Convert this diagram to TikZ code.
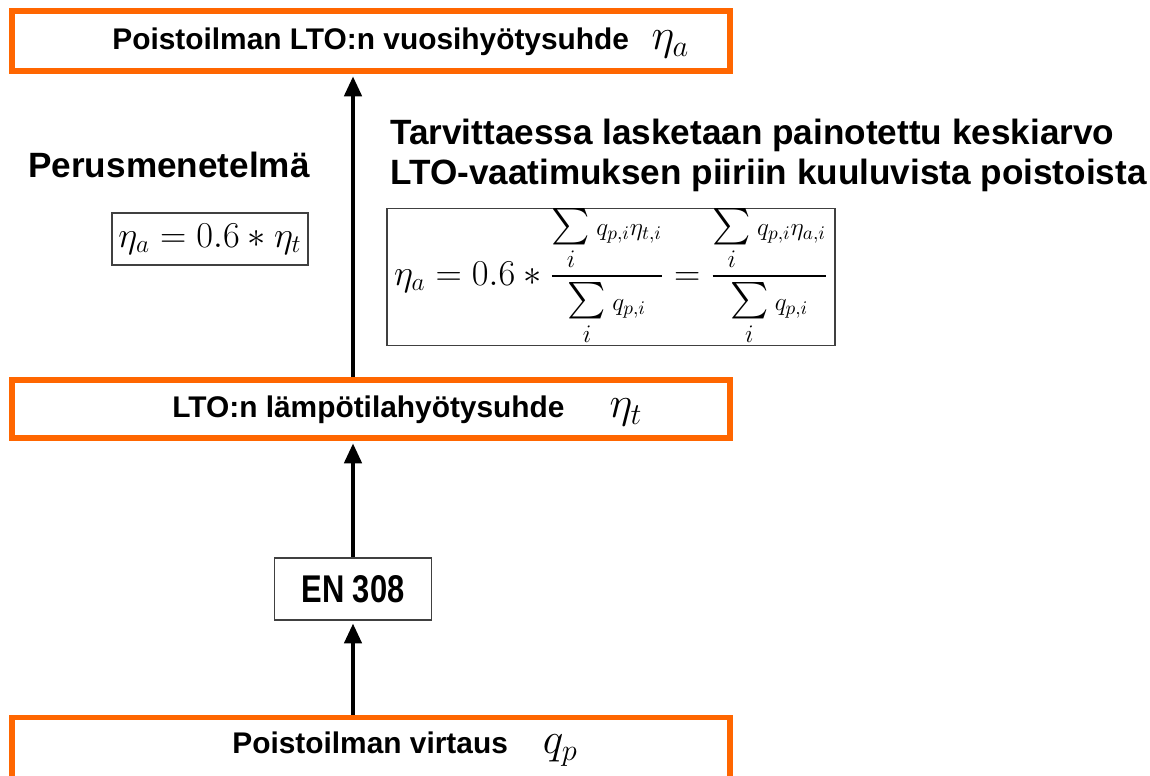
\documentclass[tikz,border=0pt]{standalone}
\usepackage{fontspec}
\usepackage{amsmath}
\setmainfont{Liberation Sans}
\newfontfamily\narrowfont[FakeStretch=0.8]{Liberation Sans}
\usetikzlibrary{arrows.meta}

\definecolor{ltoorange}{RGB}{255,102,0}

\tikzset{
  orangebox/.style={draw=ltoorange, line width=3pt, minimum width=14.36cm,
    minimum height=1.2cm, inner sep=0pt},
  thinbox/.style={draw=black!75, line width=0.9pt, inner sep=0pt},
  boxtext/.style={font=\bfseries\fontsize{17}{20}\selectfont, inner sep=0pt, anchor=west},
  headtext/.style={font=\bfseries\fontsize{20}{23}\selectfont, inner sep=0pt, align=left},
  flow/.style={line width=2.5pt, -{Triangle[length=0.4cm,width=0.34cm]}, shorten >=1.5pt}
}

\newcommand{\bigsym}[1]{{\fontsize{24}{28}\selectfont$#1$}}
\newcommand{\wsum}[1]{\sum\limits_i{\scriptstyle #1}}

\begin{document}
\begin{tikzpicture}[x=0.02cm, y=-0.02cm]
\clip (0,0) rectangle (1150,776);

% the three orange boxes
\node[orangebox] (vuosi) at (371,41) {};
\node[orangebox, minimum height=1.16cm] (lampo) at (371,409) {};
\node[orangebox, minimum height=1.5cm] (virtaus) at (371,755) {};

\node[boxtext] (vuosilabel) at (112,43) {Poistoilman LTO:n vuosihyötysuhde\hspace{0.45cm}\bigsym{\eta_a}};
\node[boxtext] (lampolabel) at (172,411) {LTO:n lämpötilahyötysuhde\hspace{0.9cm}\bigsym{\eta_t}};
\node[boxtext] (virtauslabel) at (232,749) {Poistoilman virtaus\hspace{0.7cm}\bigsym{q_p}};

% EN 308
\node[thinbox, minimum width=3.14cm, minimum height=1.24cm,
  font=\narrowfont\bfseries\fontsize{22}{26}\selectfont] (en) at (353,589) {EN 308};

% methods
\node[headtext, anchor=west] (perus) at (28,165) {Perusmenetelmä};
\node[headtext, anchor=west] (tarv) at (390,135) {Tarvittaessa lasketaan painotettu keskiarvo};
\node[headtext, anchor=west] (ltovaat) at (390,175) {LTO-vaatimuksen piiriin kuuluvista poistoista};

\node[thinbox, minimum width=3.92cm, minimum height=1.04cm,
  font=\fontsize{20}{24}\selectfont] (perusf) at (210,239)
  {$\eta_a = 0.6 * \eta_t$};
\node[thinbox, minimum width=8.96cm, minimum height=2.6cm,
  font=\fontsize{21.5}{25}\selectfont] (painof) at (611,277)
  {$\displaystyle \eta_a = 0.6 * \frac{\wsum{q_{p,i}\eta_{t,i}}}{\wsum{q_{p,i}}}
   = \frac{\wsum{q_{p,i}\eta_{a,i}}}{\wsum{q_{p,i}}}$};

% arrows
\draw[flow] (virtaus.north -| en.south) -- (en.south);
\draw[flow] (en.north) -- (en.north |- lampo.south);
\draw[flow] (en.north |- lampo.north) -- (en.north |- vuosi.south);

\end{tikzpicture}
\end{document}
